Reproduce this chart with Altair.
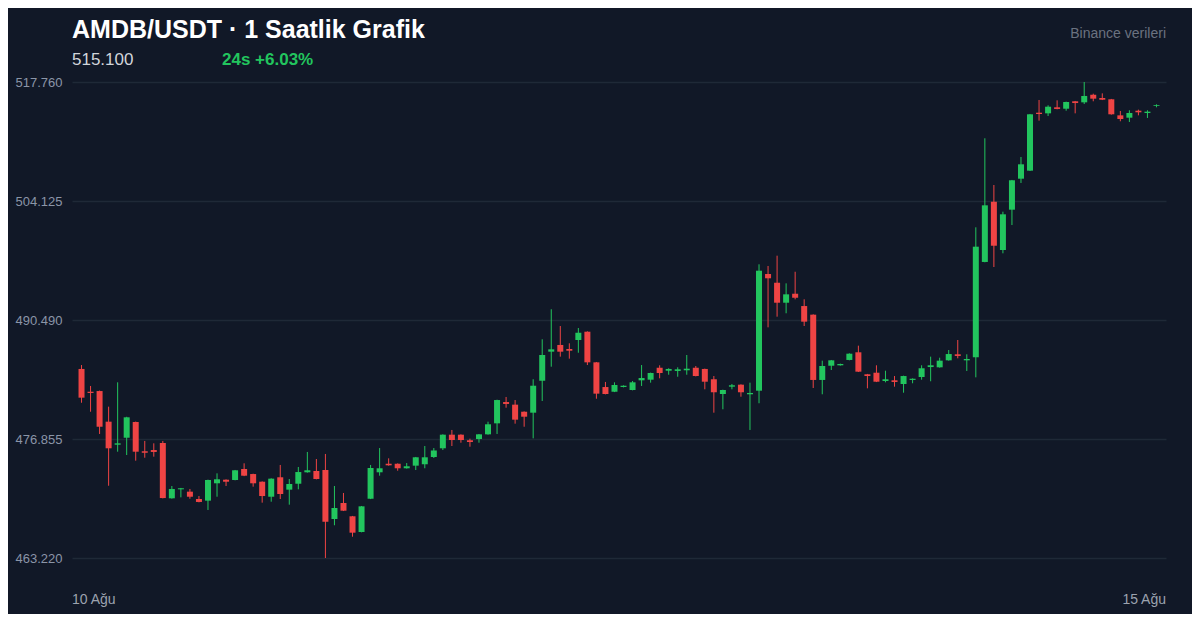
import altair as alt
import pandas as pd

# OHLC values (1h candles, 10 Ağu -> 15 Ağu)
opens = [
    484.88, 482.27, 482.35, 478.84, 476.20, 477.00, 478.80, 475.45, 475.59, 476.40,
    470.06, 471.09, 470.82, 469.98, 469.79, 471.78, 472.19, 472.16, 473.42, 472.84,
    471.96, 470.24, 472.47, 471.05, 471.73, 473.04, 473.19, 473.30, 467.69, 469.52,
    468.00, 466.20, 470.01, 473.04, 474.02, 474.02, 473.50, 473.80, 473.96, 474.79,
    475.79, 477.35, 477.35, 476.71, 476.85, 477.39, 478.65, 481.09, 480.79, 479.98,
    479.87, 483.53, 486.86, 487.63, 487.17, 488.20, 489.15, 485.64, 482.81, 482.27,
    482.81, 482.47, 483.58, 483.65, 485.02, 484.68, 484.65, 484.73, 485.02, 484.88,
    483.70, 482.01, 482.85, 483.08, 481.98, 482.39, 495.76, 494.76, 492.47, 493.50,
    492.09, 491.10, 483.62, 485.25, 485.30, 485.91, 486.79, 484.27, 484.45, 483.50,
    483.58, 483.16, 483.62, 483.96, 485.10, 485.07, 485.87, 486.56, 485.87, 486.22,
    497.14, 504.04, 498.51, 503.13, 506.68, 507.60, 514.24, 514.17, 514.86, 514.70,
    515.55, 515.43, 516.30, 515.93, 515.78, 513.94, 513.67, 514.47, 514.21, 515.01,
]
highs = [
    485.33, 482.93, 482.40, 480.56, 483.35, 479.40, 478.85, 476.63, 476.36, 476.63,
    471.47, 471.25, 471.13, 470.32, 472.20, 472.92, 472.23, 473.31, 474.07, 472.88,
    472.00, 472.35, 473.88, 472.27, 473.65, 475.37, 474.56, 475.14, 471.47, 470.67,
    468.04, 469.18, 473.88, 475.82, 474.64, 474.06, 474.10, 474.80, 476.05, 475.82,
    477.39, 477.89, 477.39, 476.89, 477.43, 478.84, 481.36, 481.67, 481.32, 480.02,
    483.70, 488.28, 491.72, 489.80, 487.82, 489.57, 489.19, 485.68, 483.39, 483.35,
    483.00, 483.50, 485.33, 484.46, 485.30, 484.96, 485.07, 486.48, 485.22, 484.92,
    484.07, 482.51, 483.16, 483.12, 483.31, 496.87, 496.68, 497.86, 494.69, 496.02,
    492.86, 491.14, 485.83, 485.91, 485.49, 486.67, 487.55, 484.31, 485.30, 484.68,
    484.07, 484.11, 483.80, 485.30, 486.29, 486.17, 487.05, 488.20, 486.56, 501.11,
    511.31, 505.96, 502.90, 506.54, 509.17, 514.10, 515.70, 515.09, 515.66, 515.51,
    515.59, 517.76, 516.42, 516.46, 515.82, 514.44, 514.52, 514.59, 514.52, 515.20,
]
lows = [
    481.01, 479.98, 477.43, 471.50, 475.40, 475.02, 474.37, 474.71, 474.83, 470.05,
    470.02, 470.17, 470.01, 469.60, 468.72, 470.24, 471.47, 472.12, 472.60, 471.39,
    469.56, 469.67, 469.98, 469.33, 471.09, 473.00, 472.23, 463.22, 466.97, 468.60,
    465.66, 466.16, 469.97, 472.65, 473.80, 473.22, 473.46, 473.30, 473.50, 474.68,
    475.59, 476.05, 476.43, 475.97, 476.43, 477.35, 477.43, 480.44, 478.61, 478.26,
    476.93, 481.21, 485.14, 486.29, 486.06, 486.74, 485.33, 481.47, 481.97, 482.23,
    482.77, 482.43, 482.93, 483.31, 483.81, 484.22, 483.99, 484.22, 484.03, 482.55,
    479.87, 480.26, 482.55, 481.70, 477.89, 480.95, 489.65, 490.87, 491.26, 492.86,
    489.80, 482.70, 481.98, 484.76, 485.26, 485.87, 484.53, 482.66, 483.38, 483.35,
    482.85, 482.16, 483.24, 483.65, 483.47, 485.03, 485.83, 486.10, 484.65, 483.92,
    497.10, 496.56, 498.13, 501.37, 506.19, 507.56, 513.33, 513.86, 514.63, 514.47,
    514.17, 515.24, 515.55, 515.69, 514.02, 513.26, 513.18, 513.94, 513.64, 514.86,
]
closes = [
    481.59, 482.13, 478.26, 475.79, 476.36, 479.34, 475.40, 475.28, 475.37, 470.09,
    471.13, 471.21, 470.24, 469.64, 472.16, 472.24, 471.96, 473.27, 472.65, 471.78,
    470.32, 472.31, 470.55, 471.70, 473.07, 473.27, 472.27, 467.38, 468.95, 468.64,
    466.12, 469.14, 473.53, 473.50, 473.84, 473.50, 473.73, 474.76, 474.76, 475.54,
    477.35, 476.74, 476.74, 476.51, 477.39, 478.54, 481.32, 480.87, 479.07, 479.41,
    482.96, 486.48, 487.13, 486.86, 486.97, 489.03, 485.64, 482.05, 482.01, 483.04,
    482.96, 483.35, 483.84, 484.42, 484.42, 484.88, 484.84, 484.91, 484.07, 483.42,
    482.21, 482.47, 483.01, 482.21, 482.13, 496.14, 495.27, 492.47, 493.43, 493.04,
    490.30, 483.62, 485.22, 485.87, 485.45, 486.63, 484.57, 484.07, 483.42, 483.70,
    483.39, 484.07, 483.76, 484.96, 485.30, 485.83, 486.59, 486.37, 486.02, 498.89,
    503.63, 499.00, 502.60, 506.50, 508.33, 514.06, 514.09, 514.93, 514.67, 515.47,
    515.35, 516.16, 515.85, 515.73, 514.06, 513.52, 514.21, 514.29, 514.36, 515.10,
]

y_ticks = [463.220, 476.855, 490.490, 504.125, 517.760]
y_domain = [463.22, 517.76]
x_labels = ["10 Ağu", "15 Ağu"]
title_text = "AMDB/USDT · 1 Saatlik Grafik"
price_text = "515.100"
change_text = "24s +6.03%"
source_text = "Binance verileri"

BG = "#111827"
GREEN = "#22c55e"
RED = "#ef4444"
GRID = "#1f2937"
FONT = "Liberation Sans"

W, H = 1094, 476

df = pd.DataFrame({
    "i": list(range(len(opens))),
    "open": opens, "high": highs, "low": lows, "close": closes,
})
df["dir"] = ["up" if c >= o else "down" for o, c in zip(opens, closes)]

x_enc = alt.X("i:Q", scale=alt.Scale(domain=[-0.5, len(opens) - 0.5], nice=False, zero=False), axis=None)
y_scale = alt.Scale(domain=y_domain, nice=False, zero=False)
color_enc = alt.Color("dir:N", scale=alt.Scale(domain=["up", "down"], range=[GREEN, RED]), legend=None)

base = alt.Chart(df)

wicks = base.mark_rule(strokeWidth=1).encode(
    x=x_enc,
    y=alt.Y("low:Q", scale=y_scale, axis=alt.Axis(
        values=y_ticks, format=".3f", title=None, domain=False, ticks=False,
        labelColor="#8b95a7", labelFontSize=13, labelFont=FONT, labelPadding=10,
        gridColor=GRID, gridWidth=1.5, grid=True,
    )),
    y2="high:Q",
    color=color_enc,
)

bodies = base.mark_bar(size=6).encode(
    x=x_enc,
    y=alt.Y("open:Q", scale=y_scale),
    y2="close:Q",
    color=color_enc,
)

def txt(text, x, y, size, color, weight="normal", align="left"):
    return alt.Chart(pd.DataFrame({"t": [text]})).mark_text(
        align=align, baseline="alphabetic", fontSize=size, font=FONT,
        fontWeight=weight, color=color,
    ).encode(text="t:N", x=alt.value(x), y=alt.value(y))

layers = [
    wicks, bodies,
    txt(title_text, 0, -44, 25, "#ffffff", "bold"),
    txt(price_text, 0, -17, 17, "#d1d5db"),
    txt(change_text, 150, -17, 17, GREEN, "bold"),
    txt(source_text, W, -44, 14, "#6b7280", align="right"),
    txt(x_labels[0], 0, H + 46, 14, "#9ca3af"),
    txt(x_labels[1], W, H + 46, 14, "#9ca3af", align="right"),
]

chart = alt.layer(*layers).properties(
    width=W, height=H,
    autosize=alt.AutoSizeParams(type="none"),
    padding={"left": 64, "top": 74, "right": 26, "bottom": 56},
    background=BG,
).configure_view(stroke=None)

chart.save("out.html", embed_options={"renderer": "svg", "actions": False})
